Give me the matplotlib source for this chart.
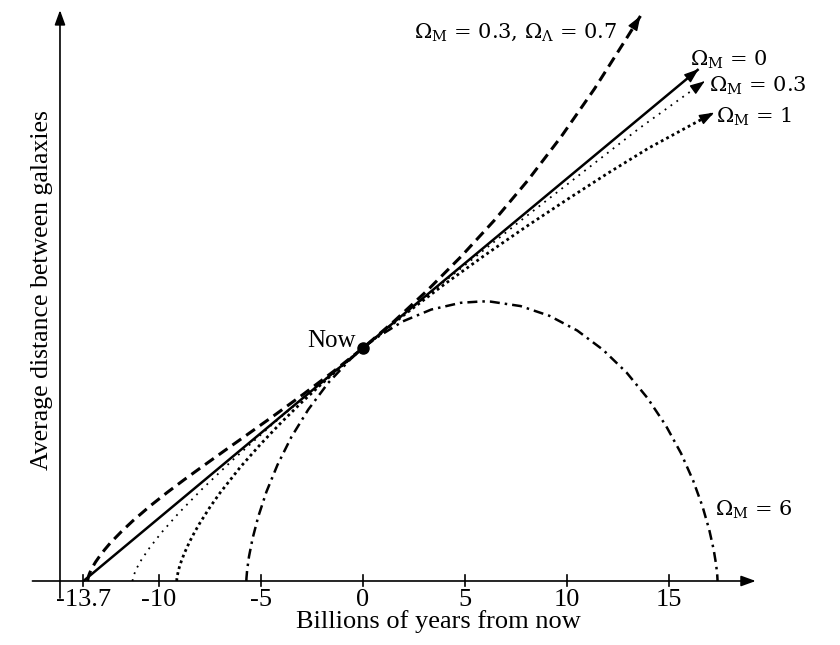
import matplotlib
matplotlib.use("Agg")
import matplotlib.pyplot as plt

plt.rcParams['mathtext.fontset'] = 'dejavuserif'

# ---- data ----
# time in billions of years from now, average distance (now = 1)
t_om0 = [-13.7, 0.0, 16.45]
a_om0 = [0.0, 1.0, 2.197]

t_lcdm = [-13.50, -13.445, -13.389, -13.278, -13.110, -12.943, -12.664, -12.385, -11.828,
          -11.270, -10.433, -9.596, -8.760, -7.923, -6.807, -5.692, -4.296, -2.902, -1.452,
          0.0, 1.527, 3.164, 4.801, 6.439, 8.076, 9.714, 11.351, 12.988, 13.6]
a_lcdm = [0.0, 0.022, 0.035, 0.056, 0.081, 0.102, 0.134, 0.163, 0.213,
          0.259, 0.322, 0.380, 0.435, 0.488, 0.558, 0.627, 0.714, 0.803, 0.899,
          1.0, 1.115, 1.248, 1.392, 1.548, 1.719, 1.907, 2.113, 2.339, 2.425]

t_om03 = [-11.30, -11.223, -11.089, -10.846, -10.455, -9.873, -9.046, -7.914, -6.402,
          -4.421, -1.862, 0.0, 3.287, 7.838, 13.543, 16.75]
a_om03 = [0.0, 0.027, 0.055, 0.093, 0.143, 0.208, 0.290, 0.392, 0.518,
          0.674, 0.865, 1.0, 1.236, 1.554, 1.943, 2.145]

t_om1 = [-9.13, -9.12, -9.1, -9.05, -9.0, -8.9, -8.75, -8.5, -8.25, -8.0, -7.5, -7.0,
         -6.0, -5.0, -4.0, -3.0, -2.0, -1.0, 0.0, 2.0, 4.0, 6.0, 8.0, 10.0, 12.0, 14.0, 17.2]
a_om1 = [0.0, 0.011, 0.022, 0.043, 0.059, 0.086, 0.120, 0.168, 0.210, 0.248, 0.317, 0.379,
         0.490, 0.589, 0.681, 0.767, 0.848, 0.926, 1.0, 1.141, 1.274, 1.400, 1.521, 1.637,
         1.750, 1.858, 2.01]

t_om6 = [-5.716, -5.711, -5.677, -5.586, -5.412, -5.133, -4.731, -4.192, -3.509, -2.679,
         -1.707, -0.601, 0.0, 0.623, 1.946, 3.345, 4.792, 5.831, 6.261, 7.721, 9.143,
         10.501, 11.769, 12.926, 13.955, 14.845, 15.589, 16.187, 16.645, 16.973, 17.188,
         17.311, 17.365, 17.379]
a_om6 = [0.0, 0.012, 0.047, 0.105, 0.182, 0.276, 0.383, 0.498, 0.618, 0.736,
         0.850, 0.953, 1.0, 1.042, 1.114, 1.165, 1.194, 1.200, 1.199, 1.180, 1.138,
         1.075, 0.992, 0.894, 0.784, 0.667, 0.548, 0.430, 0.319, 0.219, 0.135,
         0.069, 0.024, 0.0]

tick_vals = [-13.7, -10, -5, 0, 5, 10, 15]
tick_labels = ["-13.7", "-10", "-5", "0", "5", "10", "15"]

# ---- figure ----
fig = plt.figure(figsize=(8.4, 6.45), dpi=100)
ax = fig.add_axes([0, 0, 1, 1])
ax.set_xlim(-17.79, 23.38)
ax.set_ylim(-0.2747, 2.4936)
ax.axis('off')

serif = 'Liberation Serif'
k = 'black'
head = '-|>,head_length=0.55,head_width=0.2'

# axes with arrows
ax.annotate('', xy=(19.25, 0), xytext=(-16.2, 0),
            arrowprops=dict(arrowstyle=head, color=k, lw=1.2, mutation_scale=16,
                            shrinkA=0, shrinkB=0))
ax.annotate('', xy=(-14.85, 2.45), xytext=(-14.85, -0.073),
            arrowprops=dict(arrowstyle=head, color=k, lw=1.2, mutation_scale=16,
                            shrinkA=0, shrinkB=0))

for tv, tl in zip(tick_vals, tick_labels):
    ax.plot([tv, tv], [-0.022, 0.025], color=k, lw=1.2)
    ax.text(tv, -0.035, tl, ha='center', va='top', fontsize=19, family=serif)

ax.text(3.7, -0.125, 'Billions of years from now', ha='center', va='top',
        fontsize=19, family=serif)
ax.text(-15.74, 1.25, 'Average distance between galaxies', rotation=90,
        ha='center', va='center', fontsize=18.5, family=serif)


def curve(t, a, arrow=True, **kw):
    ax.plot(t, a, color=k, solid_capstyle='butt', **kw)
    if arrow:
        x1, y1 = t[-1], a[-1]
        x0, y0 = t[-2], a[-2]
        xs = x1 - 0.03 * (x1 - x0)
        ys = y1 - 0.03 * (y1 - y0)
        ax.annotate('', xy=(x1, y1), xytext=(xs, ys),
                    arrowprops=dict(arrowstyle=head, color=k, lw=1.0,
                                    mutation_scale=16, shrinkA=0, shrinkB=0))


curve(t_om0, a_om0, lw=1.8, ls='-')
curve(t_lcdm, a_lcdm, lw=2.2, ls=(0, (3.5, 2.0)))
curve(t_om03, a_om03, lw=1.3, ls=(0, (1, 3)))
curve(t_om1, a_om1, lw=2.0, ls=(0, (1, 1.2)))
curve(t_om6, a_om6, arrow=False, lw=1.8, ls=(0, (4, 2, 1, 2)))

# now point
ax.plot([0], [1], 'o', color=k, ms=8)
ax.text(-0.35, 1.03, 'Now', ha='right', va='center', fontsize=18, family=serif)

lab = dict(fontsize=15, family='DejaVu Serif', va='center', ha='left')
ax.text(2.5, 2.355, r'$\Omega_{\rm M}$ = 0.3, $\Omega_\Lambda$ = 0.7', **lab)
ax.text(16.05, 2.235, r'$\Omega_{\rm M}$ = 0', **lab)
ax.text(16.95, 2.125, r'$\Omega_{\rm M}$ = 0.3', **lab)
ax.text(17.3, 1.99, r'$\Omega_{\rm M}$ = 1', **lab)
ax.text(17.25, 0.305, r'$\Omega_{\rm M}$ = 6', **lab)

fig.savefig('out.png', dpi=100, facecolor='white')
